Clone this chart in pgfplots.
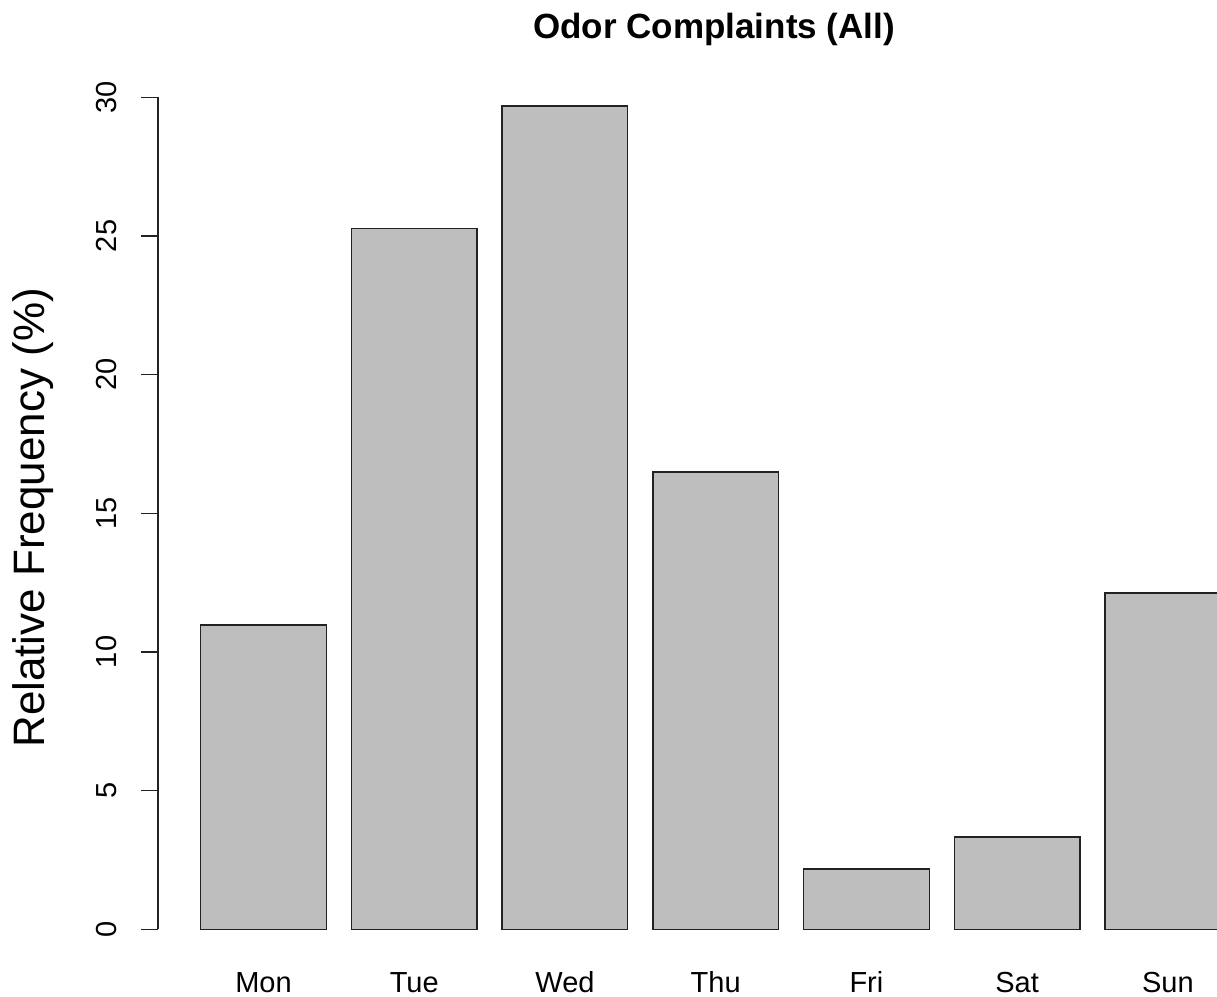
\documentclass[border=0pt]{standalone}
\usepackage{pgfplots}
\pgfplotsset{compat=1.18}
\usepackage{fontspec}
\setmainfont{Liberation Sans}
\definecolor{bargray}{HTML}{BEBEBE}
\definecolor{edge}{HTML}{222222}
\begin{document}
\begin{tikzpicture}
\useasboundingbox (-79pt,-17.35pt) rectangle (529.5pt,481.15pt);
\begin{axis}[
  scale only axis,
  width=529.5pt, height=444.45pt,
  xmin=-0.140, xmax=8.291,
  ymin=-1.19, ymax=30.86,
  axis lines*=left,
  axis line style={draw=none},
  clip mode=individual,
  ytick={0,5,10,15,20,25,30},
  xtick={0.7,1.9,3.1,4.3,5.5,6.7,7.9},
  xticklabels={Mon,Tue,Wed,Thu,Fri,Sat,Sun},
  xtick style={draw=none},
  ytick style={line width=0.7pt, edge},
  tick align=outside,
  major tick length=8.3pt,
  /pgf/number format/assume math mode=true,
  tick label style={font=\fontsize{14.5}{16}\selectfont},
  yticklabel style={rotate=90, anchor=south, yshift=9pt},
  xticklabel style={anchor=base, yshift=-6.85pt},
]
\addplot[ybar, bar width=1, bar shift=0, fill=bargray, draw=edge, line width=0.7pt]
  coordinates {(0.7,10.97) (1.9,25.26) (3.1,29.69) (4.3,16.49) (5.5,2.17) (6.7,3.33) (7.9,12.13)};
\draw[line width=0.7pt, edge] (axis cs:-0.140,0) -- (axis cs:-0.140,30);
\node[anchor=base, font=\bfseries\fontsize{17.5}{20}\selectfont] at (axis cs:4.287,30.86) [yshift=17.2pt] {Odor Complaints (All)};
\path (rel axis cs:0,0.5) ++(-56.65pt,0pt) node[anchor=base, rotate=90, font=\fontsize{22}{26}\selectfont] {Relative Frequency (\%)};
\end{axis}
\end{tikzpicture}
\end{document}
